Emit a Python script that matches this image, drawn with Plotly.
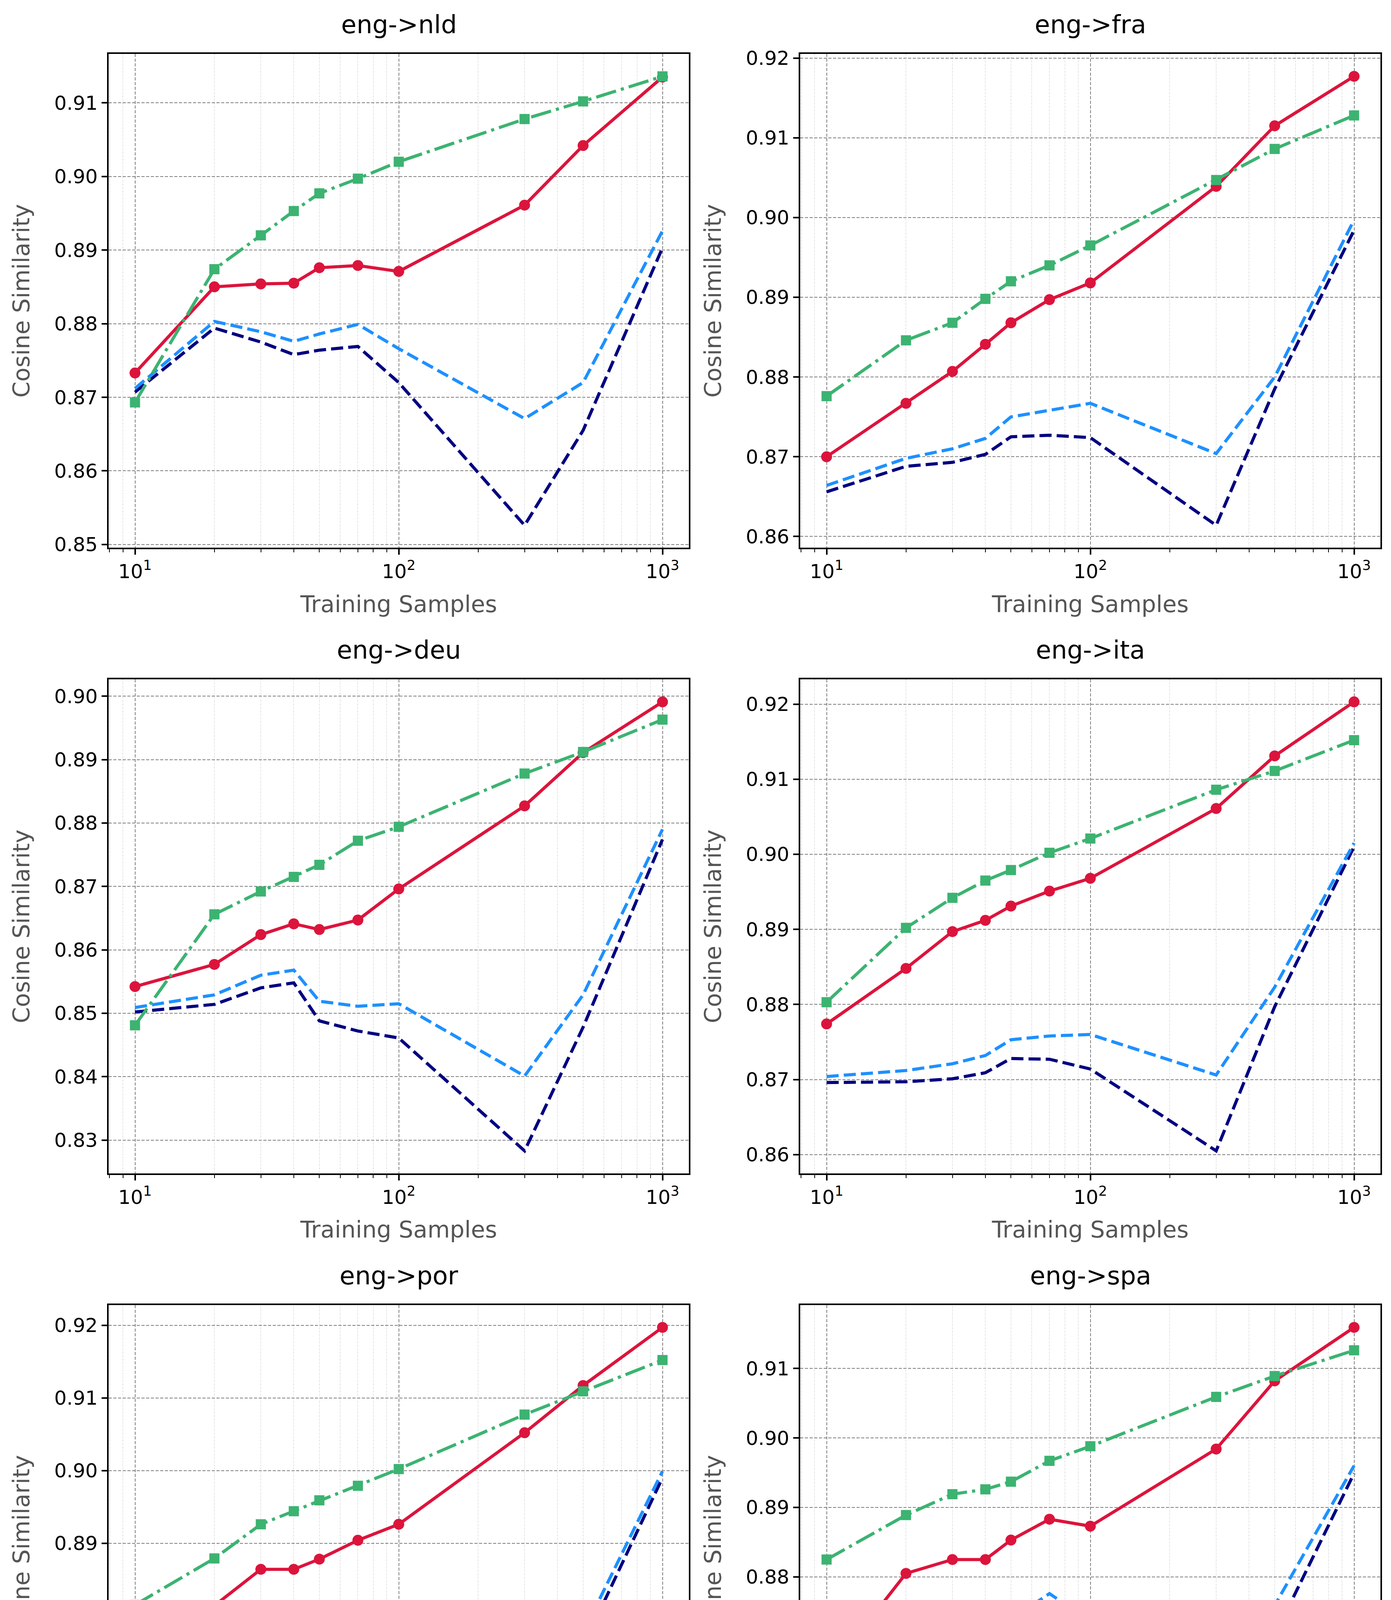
import plotly.graph_objects as go
from plotly.subplots import make_subplots

# ---------------- data ----------------
samples = [10, 20, 30, 40, 50, 70, 100, 300, 500, 1000]
pairs = ["eng->nld", "eng->fra", "eng->deu", "eng->ita", "eng->por", "eng->spa"]
series_names = [
    "Reference (λ=0)",
    "Reference (λ=0.01)",
    "Ours: Inequality (λ=0.01, ε=0.01)",
    "Ours: Totalvariation (λ=0.01, η=0.01)",
]
x_ticks = [10, 100, 1000]
x_tick_text = ["10<sup>1</sup>", "10<sup>2</sup>", "10<sup>3</sup>"]
x_minor = [8, 9, 20, 30, 40, 50, 60, 70, 80, 90, 200, 300, 400, 500, 600, 700, 800, 900]

nld_ref0 = [0.8707, 0.8794, 0.8775, 0.8758, 0.8764, 0.8769, 0.8720, 0.8526, 0.8655, 0.8903]
nld_ref001 = [0.8712, 0.8803, 0.8789, 0.8776, 0.8786, 0.8799, 0.8766, 0.8671, 0.8720, 0.8926]
nld_ineq = [0.8733, 0.8850, 0.8854, 0.8855, 0.8876, 0.8879, 0.8871, 0.8961, 0.9042, 0.9135]
nld_tv = [0.8693, 0.8874, 0.8920, 0.8953, 0.8977, 0.8997, 0.9020, 0.9078, 0.9102, 0.9136]

fra_ref0 = [0.8656, 0.8688, 0.8693, 0.8703, 0.8725, 0.8727, 0.8724, 0.8614, 0.8785, 0.8984]
fra_ref001 = [0.8664, 0.8698, 0.8710, 0.8723, 0.8750, 0.8758, 0.8767, 0.8704, 0.8800, 0.8997]
fra_ineq = [0.8700, 0.8767, 0.8807, 0.8841, 0.8868, 0.8897, 0.8918, 0.9039, 0.9115, 0.9177]
fra_tv = [0.8776, 0.8846, 0.8868, 0.8898, 0.8920, 0.8940, 0.8965, 0.9047, 0.9086, 0.9128]

deu_ref0 = [0.8502, 0.8514, 0.8540, 0.8548, 0.8488, 0.8472, 0.8461, 0.8283, 0.8478, 0.8774]
deu_ref001 = [0.8509, 0.8529, 0.8560, 0.8568, 0.8519, 0.8511, 0.8515, 0.8401, 0.8529, 0.8790]
deu_ineq = [0.8542, 0.8577, 0.8624, 0.8641, 0.8632, 0.8647, 0.8696, 0.8827, 0.8911, 0.8991]
deu_tv = [0.8481, 0.8656, 0.8692, 0.8715, 0.8734, 0.8772, 0.8794, 0.8878, 0.8912, 0.8963]

ita_ref0 = [0.8696, 0.8697, 0.8701, 0.8709, 0.8728, 0.8727, 0.8714, 0.8605, 0.8797, 0.9010]
ita_ref001 = [0.8704, 0.8712, 0.8721, 0.8732, 0.8753, 0.8758, 0.8760, 0.8706, 0.8823, 0.9015]
ita_ineq = [0.8774, 0.8848, 0.8897, 0.8912, 0.8931, 0.8951, 0.8968, 0.9061, 0.9131, 0.9203]
ita_tv = [0.8803, 0.8902, 0.8942, 0.8965, 0.8979, 0.9002, 0.9021, 0.9086, 0.9111, 0.9152]

por_ref0 = [0.8707, 0.8717, 0.8728, 0.8711, 0.8696, 0.8773, 0.8751, 0.8579, 0.8758, 0.8990]
por_ref001 = [0.8712, 0.8729, 0.8745, 0.8729, 0.8722, 0.8802, 0.8795, 0.8694, 0.8777, 0.8999]
por_ineq = [0.8743, 0.8814, 0.8864, 0.8864, 0.8878, 0.8904, 0.8926, 0.9052, 0.9117, 0.9197]
por_tv = [0.8815, 0.8879, 0.8926, 0.8944, 0.8959, 0.8979, 0.9002, 0.9077, 0.9109, 0.9152]

spa_ref0 = [0.8564, 0.8735, 0.8727, 0.8715, 0.8717, 0.8748, 0.8688, 0.8513, 0.8716, 0.8949]
spa_ref001 = [0.8573, 0.8744, 0.8741, 0.8731, 0.8739, 0.8776, 0.8736, 0.8640, 0.8759, 0.8960]
spa_ineq = [0.8659, 0.8805, 0.8825, 0.8825, 0.8853, 0.8883, 0.8873, 0.8984, 0.9082, 0.9159]
spa_tv = [0.8825, 0.8889, 0.8919, 0.8926, 0.8937, 0.8967, 0.8988, 0.9059, 0.9089, 0.9126]

panel_series = [
    [nld_ref0, nld_ref001, nld_ineq, nld_tv],
    [fra_ref0, fra_ref001, fra_ineq, fra_tv],
    [deu_ref0, deu_ref001, deu_ineq, deu_tv],
    [ita_ref0, ita_ref001, ita_ineq, ita_tv],
    [por_ref0, por_ref001, por_ineq, por_tv],
    [spa_ref0, spa_ref001, spa_ineq, spa_tv],
]

# ---------------- styles ----------------
FONT = "DejaVu Sans"
W, H = 3560, 5106
ML, MR, MT, MB = 270, 35, 130, 509
PW, PH = W - ML - MR, H - MT - MB
LW = 8
DASH = "31px,13px"
DASHDOT = "53px,13px,8px,13px"
LEG_PAD = "\u2002\u00a0"  # gap between legend sample and label, as in the reference
styles = [
    dict(mode="lines", line=dict(color="#000080", width=LW, dash=DASH), legend="legend"),
    dict(mode="lines", line=dict(color="#1E90FF", width=LW, dash=DASH), legend="legend"),
    dict(mode="lines+markers", line=dict(color="#DC143C", width=LW),
         marker=dict(symbol="circle", size=28, color="#DC143C"), legend="legend2"),
    dict(mode="lines+markers", line=dict(color="#3CB371", width=LW, dash=DASHDOT),
         marker=dict(symbol="square", size=26, color="#3CB371"), legend="legend2"),
]

fig = make_subplots(rows=3, cols=2, subplot_titles=pairs,
                    horizontal_spacing=285 / PW, vertical_spacing=337 / PH)

for p, series in enumerate(panel_series):
    r, c = p // 2 + 1, p % 2 + 1
    for s, vals in enumerate(series):
        fig.add_trace(go.Scatter(x=samples, y=vals, name=LEG_PAD + series_names[s],
                                 legendgroup=series_names[s],
                                 showlegend=(p == 0), **styles[s]), row=r, col=c)
    allv = [v for ser in series for v in ser]
    lo, hi = min(allv), max(allv)
    pad = 0.05 * (hi - lo)
    fig.update_yaxes(range=[lo - pad, hi + pad], row=r, col=c)

axis_common = dict(
    showline=True, mirror=True, linecolor="black", linewidth=4,
    ticks="outside", ticklen=14, tickwidth=4, tickcolor="black",
    tickfont=dict(family=FONT, size=50, color="black"),
    showgrid=True, gridcolor="#808080", gridwidth=1.5, griddash="8px,4px",
    zeroline=False,
)
fig.update_xaxes(type="log", range=[0.9, 3.1], tickmode="array", tickvals=x_ticks,
                 ticktext=x_tick_text,
                 minor=dict(tickmode="array", tickvals=x_minor, ticks="outside", ticklen=8,
                            tickwidth=2, tickcolor="black", showgrid=True,
                            gridcolor="#9a9a9a", gridwidth=1.2, griddash="1.5px,3px"),
                 title=dict(text="Training Samples", standoff=35,
                            font=dict(family=FONT, size=59, color="#555555")),
                 **axis_common)
fig.update_yaxes(dtick=0.01, tickformat=".2f",
                 title=dict(text="Cosine Similarity", standoff=45,
                            font=dict(family=FONT, size=59, color="#555555")),
                 **axis_common)

for ann in fig.layout.annotations:
    ann.font = dict(family=FONT, size=64, color="black")
    ann.yshift = 36

# legend frame (rounded rectangle)
bx0, bx1, by0, by1 = 701, 2862, 4886, 5076
rad = 14


def px_x(v):
    return (v - ML) / PW


def px_y(v):
    return (H - MB - v) / PH


path = (
    f"M{px_x(bx0 + rad)},{px_y(by0)} L{px_x(bx1 - rad)},{px_y(by0)} "
    f"Q{px_x(bx1)},{px_y(by0)} {px_x(bx1)},{px_y(by0 + rad)} "
    f"L{px_x(bx1)},{px_y(by1 - rad)} Q{px_x(bx1)},{px_y(by1)} {px_x(bx1 - rad)},{px_y(by1)} "
    f"L{px_x(bx0 + rad)},{px_y(by1)} Q{px_x(bx0)},{px_y(by1)} {px_x(bx0)},{px_y(by1 - rad)} "
    f"L{px_x(bx0)},{px_y(by0 + rad)} Q{px_x(bx0)},{px_y(by0)} {px_x(bx0 + rad)},{px_y(by0)} Z"
)
fig.add_shape(type="path", xref="paper", yref="paper", path=path,
              line=dict(color="#222222", width=2.5), fillcolor="white", layer="below")

leg_common = dict(orientation="v", xanchor="left", yanchor="top",
                  bgcolor="rgba(0,0,0,0)", borderwidth=0, itemwidth=118,
                  tracegroupgap=8, font=dict(family=FONT, size=58, color="black"))
fig.update_layout(
    width=W, height=H,
    margin=dict(l=ML, r=MR, t=MT, b=MB),
    paper_bgcolor="white", plot_bgcolor="white",
    font=dict(family=FONT, color="black"),
    legend=dict(x=px_x(712), y=px_y(4893), **leg_common),
    legend2=dict(x=px_x(1563), y=px_y(4893), **leg_common),
)

fig.write_html("out.html")
